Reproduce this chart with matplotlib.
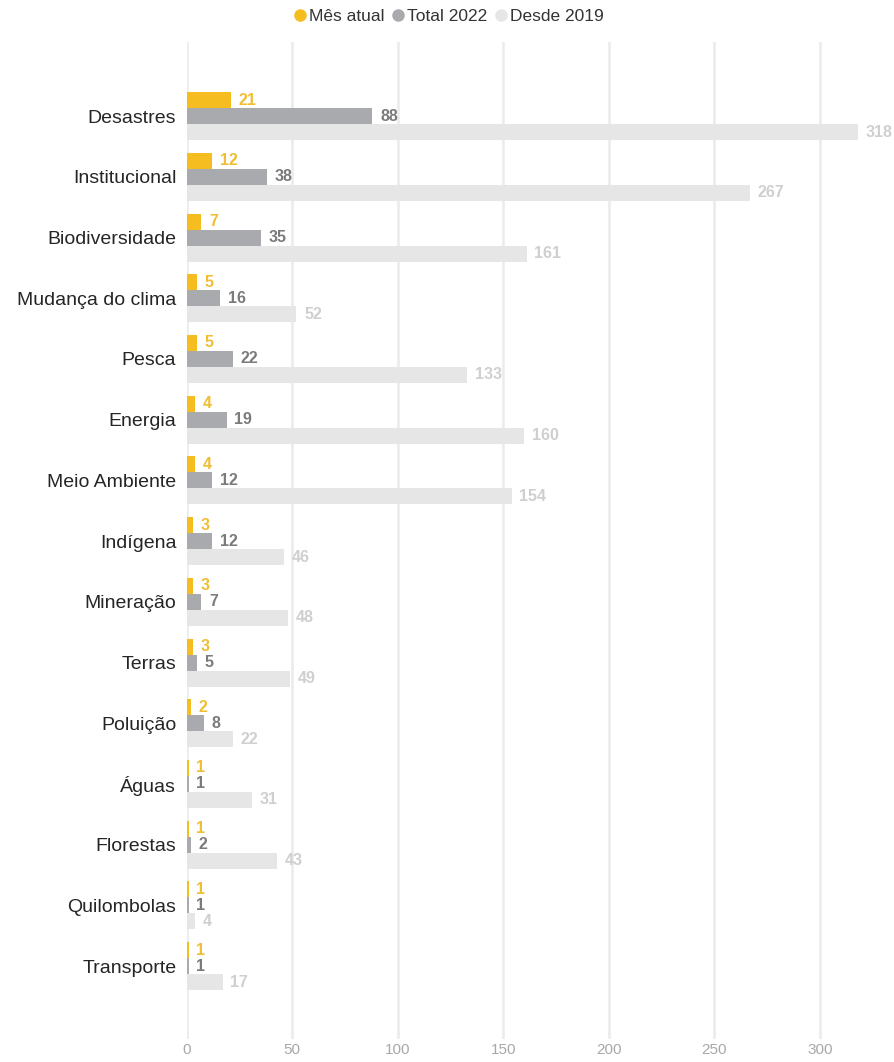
import numpy as np
import matplotlib
matplotlib.use("Agg")
import matplotlib.pyplot as plt
from matplotlib.lines import Line2D

plt.rcParams["font.family"] = ["Liberation Sans", "DejaVu Sans"]

categorias = ["Desastres", "Institucional", "Biodiversidade", "Mudança do clima",
              "Pesca", "Energia", "Meio Ambiente", "Indígena", "Mineração",
              "Terras", "Poluição", "Águas", "Florestas", "Quilombolas", "Transporte"]
mes_atual = [21, 12, 7, 5, 5, 4, 4, 3, 3, 3, 2, 1, 1, 1, 1]
total_2022 = [88, 38, 35, 16, 22, 19, 12, 12, 7, 5, 8, 1, 2, 1, 1]
desde_2019 = [318, 267, 161, 52, 133, 160, 154, 46, 48, 49, 22, 31, 43, 4, 17]
series_nomes = ["Mês atual", "Total 2022", "Desde 2019"]

cores_barra = ["#F5BD1F", "#A8AAAD", "#E6E6E6"]
cores_rotulo = ["#F0BE33", "#7B7B7B", "#CFCFCF"]

fig = plt.figure(figsize=(8.95, 10.62), dpi=100)
ax = fig.add_axes([186.7 / 895, 1 - 1039 / 1062, 686 / 895, 997 / 1062])

y = np.arange(len(categorias))
h = 0.2636
for k, (vals, cor, cor_txt) in enumerate(zip([mes_atual, total_2022, desde_2019],
                                             cores_barra, cores_rotulo)):
    pos = y + (k - 1) * h
    ax.barh(pos, vals, height=h, color=cor, zorder=2)
    for p, v in zip(pos, vals):
        ax.text(v + 3.6, p, str(v), va="center", ha="left", fontsize=11.5,
                fontweight="bold", color=cor_txt, zorder=3)

ax.set_xlim(0, 325)
ax.set_ylim(15.2, -1.22)
ax.set_xticks([0, 50, 100, 150, 200, 250, 300])
ax.set_yticks(y)
ax.set_yticklabels(categorias, fontsize=14, color="#252525")
ax.tick_params(axis="y", length=0, pad=7.5)
ax.tick_params(axis="x", length=0, pad=3, labelsize=11, labelcolor="#A8A8A8")
for s in ax.spines.values():
    s.set_visible(False)
ax.grid(axis="x", color="#EBEBEB", lw=1.8)
ax.set_axisbelow(True)

handles = [Line2D([], [], marker="o", ls="", color=c, markersize=8) for c in cores_barra]
fig.legend(handles, series_nomes, loc="center", bbox_to_anchor=(0.5, 1 - 16 / 1062),
           ncol=3, frameon=False, fontsize=12.5, handletextpad=0.0, handlelength=1.0,
           columnspacing=0.3, labelcolor="#333333")

fig.savefig("out.png", dpi=100)
